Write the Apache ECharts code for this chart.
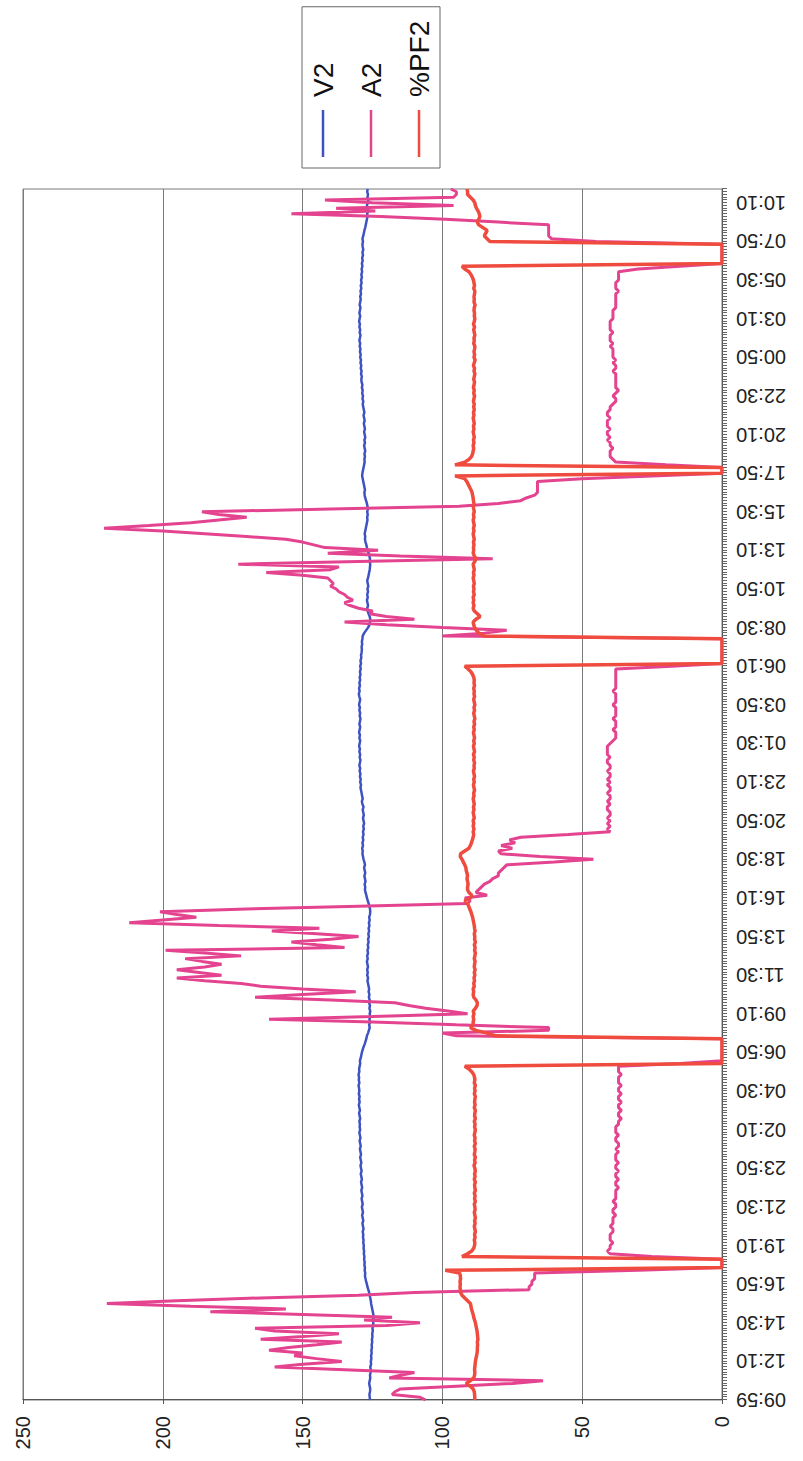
<!DOCTYPE html>
<html>
<head>
<meta charset="utf-8">
<title>V2 / A2 / %PF2</title>
<script src="https://cdn.jsdelivr.net/npm/echarts/dist/echarts.min.js"></script>
<style>
  html, body { margin: 0; padding: 0; background: #ffffff; overflow: hidden; }
  body { width: 803px; height: 1461px; position: relative; }
  /* the chart is laid out landscape and turned a quarter turn to fill the portrait page */
  #chart {
    position: absolute; left: 0; top: 0;
    width: 1461px; height: 803px;
    transform-origin: 0 0;
    transform: translateY(1461px) rotate(-90deg);
  }
</style>
</head>
<body>
<div id="chart"></div>
<script>
// logging starts at 09:59, then one sample every 10 minutes from 10:00
const FIRST_STAMP = '09:59';
const START_MINUTE = 9 * 60 + 50;
const STEP_MINUTES = 10;

const SERIES_NAMES = ['V2', 'A2', '%PF2'];
const VALUE_TICKS = [0, 50, 100, 150, 200, 250];

// voltage, phase 2
const V2 = [
  125.9,126,126.1,125.9,125.8,126,126.2,126,125.8,125.9,
  125.7,125.6,125.8,125.5,125.6,125.4,125.5,125.3,125.4,125.2,
  125.3,125.1,125.2,125,125.1,124.9,125,124.8,124.7,124.9,
  124.5,124.7,124.9,125.1,125.3,125.5,125.6,125.8,126,126.2,
  126.5,126.8,127,127.3,127.5,127.7,127.6,127.8,127.7,127.9,
  127.8,128,127.9,128.1,128,128.2,128.1,128.3,128.2,128.4,
  128.3,128.5,128.2,128.4,128.6,128.3,128.5,128.7,128.4,128.6,
  128.8,128.5,128.7,128.9,128.6,128.8,129,128.7,128.9,129.1,
  128.8,129,129.2,128.9,129.1,129.3,129,129.2,129.4,129.1,
  129.3,129.5,129.2,129.4,129.6,129.3,129.5,129.7,129.4,129.6,
  129.5,129.7,129.4,129.6,129.8,129.5,129.7,129.9,129.6,129.8,
  129.6,129.9,129.7,129.8,130,129.7,129.9,129.8,130,129.7,
  129.8,129.6,129.4,129.5,129.2,129,128.8,128.5,128.2,127.8,
  127.5,127.2,127,126.6,126.3,126,126.2,125.9,126.1,125.8,
  126,125.8,126.1,125.9,126.2,126,126.3,126.1,126.4,126.2,
  126.4,126.6,126.8,126.6,126.9,126.7,126.9,126.6,126.8,127,
  126.7,126.9,126.6,126.8,126.5,126.7,126.4,126.6,126.3,126.5,
  126.2,126.4,126.1,126.3,126,126.2,125.9,125.8,125.9,126.1,
  126.4,126.7,127,127.2,127.5,127.7,127.6,127.8,127.5,127.7,
  127.9,127.6,127.8,128,127.7,127.9,128.2,128.4,128.6,128.5,
  128.7,128.4,128.6,128.3,128.5,128.2,128.4,128.1,128.3,128,
  128.2,128.4,128.1,128.3,128.5,128.2,128.6,128.8,128.5,128.7,
  128.9,129.1,129.3,129.1,129.4,129.2,129.5,129.3,129.6,129.4,
  129.7,129.5,129.3,129.6,129.4,129.7,129.5,129.8,129.6,129.4,
  129.7,129.5,129.8,129.6,129.4,129.7,129.5,129.3,129.6,129.4,
  129.7,129.5,129.8,129.6,129.4,129.7,129.9,129.6,129.8,129.5,
  129.7,129.4,129.6,129.3,129.5,129.2,129.4,129.1,129.3,129,
  129.1,128.9,128.8,128.9,128.7,128.8,128.6,128.5,128,127.3,
  126.6,126.1,125.9,125.8,126,126.4,126.7,126.9,126.6,126.8,
  127,126.7,126.9,126.6,126.8,126.5,126.7,126.9,126.6,126.4,
  126.2,126,125.9,125.8,126,125.9,126.1,126.4,126.7,127,
  127.2,127.5,127.7,127.6,127.8,127.6,127.4,127.2,127,126.8,
  126.9,126.7,126.9,126.6,126.8,127,127.3,127.6,127.8,127.9,
  127.7,127.9,128.1,128.3,128.5,128.7,128.6,128.4,128.2,128,
  127.8,127.9,127.7,127.9,127.6,127.8,128,127.7,127.9,127.6,
  127.8,128,127.7,127.9,128.1,127.8,128,128.2,127.9,128.1,
  128.3,128.5,128.3,128.6,128.4,128.7,128.5,128.8,128.6,128.9,
  129,128.8,129.1,128.9,129.2,129,129.3,129.1,129.4,129.2,
  129.5,129.3,129.6,129.4,129.7,129.5,129.3,129.6,129.4,129.7,
  129.5,129.8,129.6,129.4,129.7,129.5,129.3,129.6,129.4,129.2,
  129.4,129.1,129.3,129,129.2,128.9,129.1,128.8,129,128.7,
  128.9,128.6,128.8,128.5,128.7,128.4,128.6,128.3,128.5,128.6,
  128.4,128.6,128.3,128.1,127.9,127.6,127.4,127.2,127,126.8,
  126.9,126.6,126.8,127,126.7,126.5,126.8,126.6,126.9,126.7
];

// current, phase 2
const A2 = [
  106,108,118,117,115,95,75,64,119,115,
  110,135,160,150,136,145,153,150,162,155,
  145,136,165,150,137,160,167,120,108,128,
  118,150,183,156,190,220,195,165,130,110,
  69,69,68,68,67,67,67,30,0,0,
  0,0,25,40,41,40,40,39,40,40,
  40,39,39,40,39,39,39,38,39,39,
  38,38,39,38,38,38,38,37,38,38,
  37,38,38,37,38,38,37,38,38,38,
  37,38,37,37,38,38,37,38,38,38,
  37,37,36,37,37,36,37,37,36,37,
  37,36,37,37,36,37,37,37,36,37,
  37,37,15,0,0,0,0,0,0,0,
  0,0,95,100,62,62,95,125,162,125,
  91,98,106,112,117,140,167,150,131,150,
  165,172,185,195,179,187,195,185,179,186,
  192,172,185,199,135,145,154,140,130,145,
  161,144,180,212,200,188,195,201,170,130,
  91,90,92,84,88,87,86,85,83,82,
  80,80,79,78,77,60,46,65,79,80,
  75,79,74,76,72,55,40,41,40,41,
  40,41,40,40,41,41,40,41,40,40,
  41,40,40,41,40,41,40,40,41,40,
  40,41,41,40,41,41,41,41,40,39,
  38,38,38,39,38,38,38,39,38,38,
  38,38,39,38,38,38,38,39,38,38,
  38,38,38,38,38,38,18,0,0,0,
  0,0,0,0,0,0,0,100,85,77,
  100,120,135,110,120,126,125,130,133,135,
  132,134,135,137,138,140,139,140,141,150,
  163,140,137,173,130,82,115,141,123,142,
  146,150,156,170,185,200,221,205,190,180,
  170,180,186,140,94,80,72,70,67,66,
  66,66,66,66,50,25,0,0,0,20,
  38,39,40,40,40,39,40,40,41,40,
  41,41,40,41,41,41,40,41,41,40,
  40,39,38,38,39,38,37,38,38,38,
  38,38,38,39,38,38,39,38,39,39,
  39,39,40,39,40,40,40,39,40,40,
  40,40,39,39,39,39,38,38,38,38,
  38,38,37,38,38,38,37,37,37,37,
  30,15,0,0,0,0,0,0,0,0,
  45,61,62,62,62,62,62,80,99,122,
  154,124,138,96,125,142,96,95,95,97
];

// power factor, phase 2 (%)
const PF2 = [
  88.5,88.4,88.5,88.6,89,90,91.5,90,88.8,88.5,
  88.4,88.5,88.4,88.3,88.2,88,87.8,87.6,87.5,87.5,
  87.4,87.5,87.3,87.4,87.5,87.6,87.8,88,88.2,88.5,
  88.8,89,89.3,89.6,89.8,90,91,92,93,93.5,
  93.6,93.7,93.6,93.7,93.5,93.6,93.8,99,0,0,
  0,0,93,91,89.5,88.8,88.5,88.4,88.6,88.3,
  88.5,88.2,88.4,88.6,88.3,88.5,88.2,88.4,88.6,88.3,
  88.4,88.6,88.2,88.5,88.3,88.6,88.2,88.4,88.5,88.2,
  88.6,88.3,88.5,88.2,88.4,88.7,88.3,88.5,88.2,88.6,
  88.4,88.3,88.6,88.2,88.5,88.3,88.6,88.4,88.2,88.5,
  88.3,88.6,88.2,88.5,88.4,88.2,88.6,88.3,88.5,88.4,
  88.2,88.6,88.3,88.5,88.2,88.6,88.4,88.5,88.8,89.5,
  90.5,92,0,0,0,0,0,0,0,0,
  0,0,81,84,88,90,89,89,88.8,89,
  88.7,89,88.2,87.6,87.5,88,88.8,89,88.8,89,
  88.6,88.8,88.5,88.7,88.4,88.6,88.3,88.6,88.5,88.3,
  88.6,88.4,88.2,88.5,88.3,88.6,88.2,88.5,88.4,88.6,
  88.3,88.5,88.6,88.8,89,89.2,89.5,89.8,90.2,90.6,
  91,92,90,89.5,90.5,91,91,90.8,91,91.2,
  91,91.2,91.5,91.6,92,92.5,93,93.6,93.5,92,
  90.5,90,89.6,89.3,89,88.8,89,88.7,89,88.8,
  89,88.6,88.8,89,88.7,88.9,88.6,88.8,89,88.7,
  88.8,88.5,88.7,88.9,88.6,88.8,88.5,88.7,88.9,88.6,
  88.7,88.5,88.8,88.6,88.9,88.5,88.7,88.9,88.6,88.8,
  88.5,88.7,88.9,88.6,88.8,88.5,88.7,88.4,88.6,88.8,
  88.5,88.7,88.4,88.6,88.8,88.5,88.7,88.6,88.8,88.5,
  88.7,88.6,88.8,89.2,89.8,90.8,92,0,0,0,
  0,0,0,0,0,0,0,85,87,87.8,
  88.5,88.8,89,88,86.5,87.5,88.6,89,88.7,89,
  88.8,89,88.6,88.9,88.7,88.9,88.6,88.8,89,88.7,
  88.9,88.6,88.8,89,88.4,88,88.6,89,88.8,88.9,
  88.7,88.9,88.6,88.8,89,88.7,88.9,88.6,88.8,89,
  88.7,88.9,88.6,88.8,89,88.7,88.9,89,89.2,89.4,
  89.8,90.3,90.8,91.3,92,95.5,0,0,0,95.5,
  92,90.5,89.6,89.2,89,88.8,89,88.7,88.9,88.6,
  88.8,89,88.7,88.9,88.6,88.8,89,88.7,88.9,88.6,
  88.8,88.6,88.9,88.7,88.5,88.8,88.6,88.9,88.7,88.5,
  88.8,88.6,88.4,88.7,88.5,88.9,88.6,88.3,88.7,88.5,
  88.7,88.5,88.4,88.8,88.6,88.7,88.4,88.6,88.8,88.5,
  88.9,88.6,88.4,88.6,88.5,88.7,88.6,88.3,88.7,88.6,
  88.7,88.5,88.4,88.8,88.5,88.7,88.9,89.3,89.8,90.5,
  92,93,0,0,0,0,0,0,0,0,
  83,84,85,84.5,84,85.5,87,87.5,87,86.6,
  86.8,87.2,87.8,88.2,88.4,89,90,91,91,91.2
];

function clockLabel(totalMinutes) {
  const m = ((totalMinutes % 1440) + 1440) % 1440;
  const hh = String(Math.floor(m / 60)).padStart(2, '0');
  const mm = String(m % 60).padStart(2, '0');
  return hh + ':' + mm;
}

const categories = A2.map((_, i) => i === 0 ? FIRST_STAMP : clockLabel(START_MINUTE + i * STEP_MINUTES));

const FONT = '"Liberation Sans", Arial, Helvetica, sans-serif';
const COLORS = ['#3f52c2', '#e3438f', '#ef4b3e'];

const chart = echarts.init(document.getElementById('chart'), null, { renderer: 'svg', width: 1461, height: 803 });

chart.setOption({
  animation: false,
  backgroundColor: '#ffffff',
  color: COLORS,
  textStyle: { fontFamily: FONT },
  grid: {
    left: 61, top: 23, width: 1211, height: 699,
    show: true, borderColor: '#7a7a7a', borderWidth: 1,
    containLabel: false
  },
  legend: {
    data: SERIES_NAMES,
    orient: 'vertical',
    left: 1293, top: 302,
    padding: [7, 14, 7, 11],
    icon: 'rect',
    itemWidth: 47, itemHeight: 2.5, itemGap: 20,
    borderColor: '#666', borderWidth: 1,
    textStyle: { fontSize: 28, color: '#111', lineHeight: 28, padding: [0, 0, 0, 8], fontFamily: FONT }
  },
  xAxis: {
    type: 'category',
    data: categories,
    boundaryGap: false,
    axisLine: { show: true, lineStyle: { color: '#555', width: 1 } },
    axisTick: { show: true, interval: 0, length: 5, lineStyle: { color: '#666', width: 1 } },
    axisLabel: { interval: 13, rotate: 90, fontSize: 20, color: '#222', margin: 14, fontFamily: FONT },
    splitLine: { show: false }
  },
  yAxis: {
    type: 'value',
    min: VALUE_TICKS[0],
    max: VALUE_TICKS[VALUE_TICKS.length - 1],
    interval: VALUE_TICKS[1] - VALUE_TICKS[0],
    axisLine: { show: true, lineStyle: { color: '#555', width: 1 } },
    axisTick: { show: true, length: 4, lineStyle: { color: '#555' } },
    axisLabel: { fontSize: 20, color: '#222', margin: 16, fontFamily: FONT },
    splitLine: { show: true, lineStyle: { color: '#7a7a7a', width: 1 } }
  },
  series: [
    { name: SERIES_NAMES[0], type: 'line', data: V2, symbol: 'none', lineStyle: { width: 2.5 }, z: 2 },
    { name: SERIES_NAMES[1], type: 'line', data: A2, symbol: 'none', lineStyle: { width: 3 }, z: 3 },
    { name: SERIES_NAMES[2], type: 'line', data: PF2, symbol: 'none', lineStyle: { width: 3.5 }, z: 4 }
  ]
});
</script>
</body>
</html>
